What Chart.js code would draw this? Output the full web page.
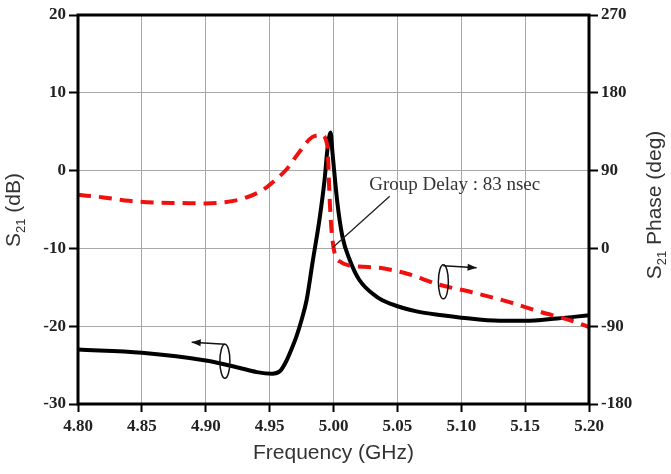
<!DOCTYPE html>
<html>
<head>
<meta charset="utf-8">
<script src="https://cdn.jsdelivr.net/npm/chart.js@4"></script>
<style>
html,body{margin:0;padding:0;background:#fff;}
#wrap{width:671px;height:474px;}
</style>
</head>
<body>
<div id="wrap"><canvas id="c" width="671" height="474"></canvas></div>
<script>
// ---- data ----
const freqS21 = [4.80, 4.85, 4.90, 4.925, 4.94, 4.952, 4.958, 4.963, 4.967, 4.971, 4.975, 4.979, 4.9836, 4.989, 4.993, 4.9953, 4.9977, 4.9992, 5.003, 5.007, 5.0125, 5.020, 5.0336, 5.046, 5.065, 5.085, 5.10, 5.13, 5.15, 5.175, 5.20];
const s21dB    = [-23.0, -23.4, -24.4, -25.3, -25.9, -26.1, -25.8, -24.5, -23.0, -21.3, -19.2, -16.6, -11.8, -6.3, -1.2, 2.8, 4.9, 2.3, -4.1, -8.5, -11.4, -14.0, -16.2, -17.2, -18.1, -18.6, -18.9, -19.3, -19.3, -19.0, -18.6];

const freqPhase = [4.80, 4.82, 4.84, 4.86, 4.88, 4.90, 4.915, 4.93, 4.945, 4.955, 4.963, 4.973, 4.9836, 4.9905, 4.9953, 4.9961, 4.9969, 4.9984, 5.0008, 5.006, 5.012, 5.020, 5.036, 5.057, 5.083, 5.109, 5.135, 5.161, 5.187, 5.20];
const phaseDeg  = [62, 59, 55, 53, 52.5, 52, 53.5, 58, 68, 80, 91, 111, 129, 131, 118, 91, 60, 22, -5, -16, -19.5, -21, -22.5, -29, -42, -51, -61, -73, -84, -91];

const xTicks      = [4.80, 4.85, 4.90, 4.95, 5.00, 5.05, 5.10, 5.15, 5.20];
const yLeftTicks  = [-30, -20, -10, 0, 10, 20];
const yRightTicks = [-180, -90, 0, 90, 180, 270];

const annotationText = 'Group Delay : 83 nsec';

// ---- helpers ----
function pts(xs, ys){ return xs.map((x,i)=>({x:x, y:ys[i]})); }
const tickFont = {family:'"Liberation Serif", "Times New Roman", serif', size:17, weight:'bold'};
const gridColor = '#a8a8a8';

const decorPlugin = {
  id:'decor',
  afterDatasetsDraw(chart){
    const ctx = chart.ctx, a = chart.chartArea;
    const xs = chart.scales.x, yl = chart.scales.y;
    const px = v => xs.getPixelForValue(v), py = v => yl.getPixelForValue(v);
    ctx.save();
    // frame
    ctx.strokeStyle = '#000'; ctx.lineWidth = 3;
    ctx.strokeRect(a.left, a.top, a.right - a.left, a.bottom - a.top);

    ctx.lineWidth = 1.5; ctx.strokeStyle = '#111'; ctx.fillStyle = '#111';
    function arrow(x0,y0,x1,y1){
      ctx.beginPath(); ctx.moveTo(x0,y0); ctx.lineTo(x1,y1); ctx.stroke();
      const ang = Math.atan2(y1-y0, x1-x0), L = 9, W = 3.5;
      ctx.beginPath();
      ctx.moveTo(x1,y1);
      ctx.lineTo(x1 - L*Math.cos(ang) + W*Math.sin(ang), y1 - L*Math.sin(ang) - W*Math.cos(ang));
      ctx.lineTo(x1 - L*Math.cos(ang) - W*Math.sin(ang), y1 - L*Math.sin(ang) + W*Math.cos(ang));
      ctx.closePath(); ctx.fill();
    }
    function ell(cx,cy){
      ctx.beginPath(); ctx.ellipse(cx, cy, 5, 17, 0, 0, Math.PI*2); ctx.stroke();
    }
    // left-pointing marker (S21 -> left axis)
    let cx = px(4.915), cy = py(-24.5);
    ell(cx, cy);
    arrow(cx, cy-17, px(4.889), cy-19);
    // right-pointing marker (phase -> right axis)
    cx = px(5.086); cy = py(-14.3);
    ell(cx, cy);
    arrow(cx, cy-16, px(5.112), cy-14);

    // group delay leader line
    ctx.lineWidth = 1.3; ctx.strokeStyle = '#222';
    ctx.beginPath();
    ctx.moveTo(px(4.9995), py(-9.9));
    ctx.lineTo(px(5.004), py(-9.2));
    ctx.lineTo(px(5.044), py(-3.3));
    ctx.stroke();
    ctx.fillStyle = '#333';
    ctx.font = '19px "Liberation Serif", "Times New Roman", serif';
    ctx.textBaseline = 'middle'; ctx.textAlign = 'left';
    ctx.fillText(annotationText, px(5.028), py(-1.8));
    ctx.restore();
  },
  afterDraw(chart){
    const ctx = chart.ctx, a = chart.chartArea;
    ctx.save();
    ctx.fillStyle = '#333';
    const big = '21px "Liberation Sans", Arial, sans-serif';
    const small = '13px "Liberation Sans", Arial, sans-serif';
    // x title
    ctx.font = big; ctx.textAlign = 'center'; ctx.textBaseline = 'alphabetic';
    ctx.fillText('Frequency (GHz)', (a.left + a.right)/2, 459);
    // rotated titles with subscript
    function rotTitle(x, y, rest){
      ctx.save();
      ctx.translate(x, y); ctx.rotate(-Math.PI/2);
      ctx.textAlign = 'left'; ctx.textBaseline = 'alphabetic';
      ctx.font = big; const wS = ctx.measureText('S').width;
      ctx.font = small; const wSub = ctx.measureText('21').width;
      ctx.font = big; const wR = ctx.measureText(rest).width;
      let sx = -(wS + wSub + wR)/2;
      ctx.font = big; ctx.fillText('S', sx, 0); sx += wS;
      ctx.font = small; ctx.fillText('21', sx, 5); sx += wSub;
      ctx.font = big; ctx.fillText(rest, sx, 0);
      ctx.restore();
    }
    rotTitle(20, 210, ' (dB)');
    rotTitle(661, 205, ' Phase (deg)');
    ctx.restore();
  }
};

new Chart(document.getElementById('c'), {
  type:'line',
  data:{
    datasets:[
      {
        label:'Phase', data: pts(freqPhase, phaseDeg), yAxisID:'y2',
        borderColor:'#f01010', borderWidth:4, borderDash:[13,8],
        pointRadius:0, cubicInterpolationMode:'monotone', order:0, fill:false
      },
      {
        label:'S21', data: pts(freqS21, s21dB), yAxisID:'y',
        borderColor:'#000', borderWidth:4,
        pointRadius:0, cubicInterpolationMode:'monotone', order:1, fill:false
      }
    ]
  },
  options:{
    responsive:false, animation:false, devicePixelRatio:1,
    layout:{padding:{top:15, left:0, right:0, bottom:0}},
    plugins:{legend:{display:false}, tooltip:{enabled:false}},
    scales:{
      x:{
        type:'linear', min:4.80, max:5.20,
        afterBuildTicks: s => { s.ticks = xTicks.map(v=>({value:v})); },
        afterFit: s => { s.height = 70; },
        ticks:{ font:tickFont, color:'#222', padding:4, maxRotation:0, autoSkip:false,
          callback: v => Number(v).toFixed(2) },
        grid:{ color:gridColor, lineWidth:1, tickColor:'#000', tickLength:8, tickWidth:2 },
        border:{display:false}
      },
      y:{
        type:'linear', position:'left', min:-30, max:20,
        afterBuildTicks: s => { s.ticks = yLeftTicks.map(v=>({value:v})); },
        afterFit: s => { s.width = 78; },
        ticks:{ font:tickFont, color:'#222', padding:3, autoSkip:false },
        grid:{ color:gridColor, lineWidth:1, tickColor:'#000', tickLength:9, tickWidth:2 },
        border:{display:false}
      },
      y2:{
        type:'linear', position:'right', min:-180, max:270,
        afterBuildTicks: s => { s.ticks = yRightTicks.map(v=>({value:v})); },
        afterFit: s => { s.width = 82; },
        ticks:{ font:tickFont, color:'#222', padding:3, autoSkip:false },
        grid:{ drawOnChartArea:false, tickColor:'#000', tickLength:9, tickWidth:2 },
        border:{display:false}
      }
    }
  },
  plugins:[decorPlugin]
});
</script>
</body>
</html>
